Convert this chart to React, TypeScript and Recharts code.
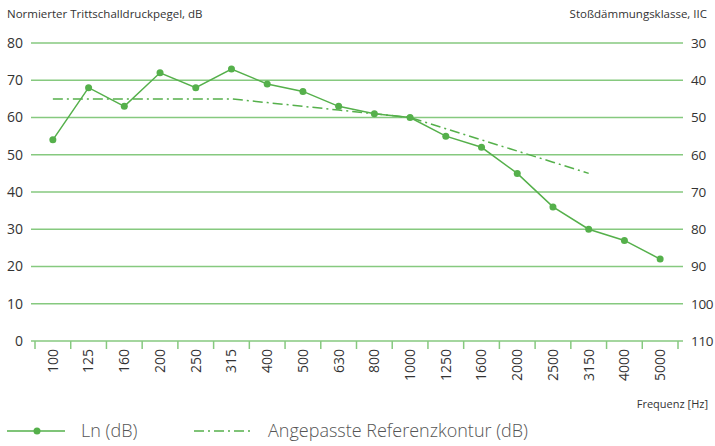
import { LineChart, Line, XAxis, YAxis, CartesianGrid } from 'recharts';

// Terzband-Mittenfrequenzen (Hz)
const frequencies = ['100', '125', '160', '200', '250', '315', '400', '500', '630', '800', '1000', '1250', '1600', '2000', '2500', '3150', '4000', '5000'];
// Normierter Trittschallpegel Ln (dB)
const lnValues = [54, 68, 63, 72, 68, 73, 69, 67, 63, 61, 60, 55, 52, 45, 36, 30, 27, 22];
// Verschobene Bezugskurve (dB), nur bis 3150 Hz
const refValues = [65, 65, 65, 65, 65, 65, 64, 63, 62, 61, 60, 57, 54, 51, 48, 45, null, null];
const leftTicks = [0, 10, 20, 30, 40, 50, 60, 70, 80];
const rightTicks = [30, 40, 50, 60, 70, 80, 90, 100, 110];

const GREEN = '#55b04b';
const GRID = '#86c97f';
const TEXT = '#333';
const FONT = '"Open Sans", "Noto Sans", sans-serif';

const W = 715;
const H = 446;
const PLOT_LEFT = 31;
const PLOT_RIGHT = 683;
const PAD_L = 4;
const PAD_R = 5;
const BAND = (PLOT_RIGHT - PAD_R - (PLOT_LEFT + PAD_L)) / frequencies.length;

const data = frequencies.map((f, i) => ({ f, ln: lnValues[i], ref: refValues[i] }));

function FreqTick(props: any) {
  const { x, y, payload, index } = props;
  const last = index === frequencies.length - 1;
  return (
    <g>
      <line x1={x - BAND / 2} y1={y} x2={x - BAND / 2} y2={y + 8} stroke={GRID} strokeWidth={1.5} />
      {last && <line x1={x + BAND / 2} y1={y} x2={x + BAND / 2} y2={y + 8} stroke={GRID} strokeWidth={1.5} />}
      <text
        transform={`translate(${x},${y + 8}) rotate(-90)`}
        textAnchor="end"
        dy="0.35em"
        fontSize={14}
        fill={TEXT}
        fontFamily={FONT}
      >
        {payload.value}
      </text>
    </g>
  );
}

function Legend() {
  return (
    <svg width={W} height={30} style={{ position: 'absolute', left: 0, top: 416 }}>
      <line x1={7} y1={15} x2={65} y2={15} stroke={GREEN} strokeWidth={1.5} />
      <circle cx={37} cy={15} r={3.5} fill={GREEN} />
      <text x={81} y={21} fontSize={18} fill="#555" fontFamily={FONT} fontWeight={300}>Ln (dB)</text>
      <line x1={194} y1={15} x2={252} y2={15} stroke={GREEN} strokeWidth={1.5} strokeDasharray="10 4 2 4" />
      <text x={268} y={21} fontSize={18} fill="#555" fontFamily={FONT} fontWeight={300}>Angepasste Referenzkontur (dB)</text>
    </svg>
  );
}

export default function App() {
  return (
    <div style={{ position: 'absolute', left: 0, top: 0, width: W, height: H, background: '#fff', fontFamily: FONT }}>
      <div style={{ position: 'absolute', left: 7, top: 6, fontSize: 11.5, color: TEXT }}>
        Normierter Trittschalldruckpegel, dB
      </div>
      <div style={{ position: 'absolute', right: 8, top: 6, fontSize: 11.5, color: TEXT }}>
        Stoßdämmungsklasse, IIC
      </div>
      <LineChart
        width={W}
        height={H}
        data={data}
        margin={{ top: 43, right: 0, bottom: 45, left: 0 }}
      >
        <CartesianGrid horizontal vertical={false} stroke={GRID} strokeWidth={1.5} yAxisId="left" />
        <XAxis
          dataKey="f"
          height={60}
          axisLine={false}
          tickLine={false}
          tickSize={0}
          tickMargin={0}
          interval={0}
          padding={{ left: PAD_L + BAND / 2, right: PAD_R + BAND / 2 }}
          tick={<FreqTick />}
        />
        <YAxis
          yAxisId="left"
          orientation="left"
          width={PLOT_LEFT}
          domain={[0, 80]}
          ticks={leftTicks}
          axisLine={false}
          tickLine={false}
          tickSize={0}
          tickMargin={8}
          tick={{ fontSize: 14, fill: TEXT, fontFamily: FONT }}
        />
        <YAxis
          yAxisId="right"
          orientation="right"
          width={W - PLOT_RIGHT}
          domain={[30, 110]}
          allowDataOverflow
          reversed
          ticks={rightTicks}
          axisLine={false}
          tickLine={false}
          tickSize={0}
          tickMargin={8}
          tick={{ fontSize: 13.5, fill: TEXT, fontFamily: FONT, textAnchor: 'start', letterSpacing: -0.3 }}
        />
        {/* unsichtbare Serie, damit die rechte Achse gezeichnet wird */}
        <Line
          yAxisId="right"
          dataKey="ln"
          stroke="none"
          dot={false}
          activeDot={false}
          legendType="none"
          isAnimationActive={false}
        />
        <Line
          yAxisId="left"
          dataKey="ref"
          stroke={GREEN}
          strokeWidth={1.5}
          strokeDasharray="10 4 2 4"
          dot={false}
          activeDot={false}
          connectNulls={false}
          isAnimationActive={false}
        />
        <Line
          yAxisId="left"
          dataKey="ln"
          stroke={GREEN}
          strokeWidth={1.5}
          dot={{ r: 3.5, fill: GREEN, stroke: GREEN, strokeWidth: 0 }}
          activeDot={false}
          isAnimationActive={false}
        />
      </LineChart>
      <div style={{ position: 'absolute', right: 7, top: 396, fontSize: 11, color: TEXT }}>
        Frequenz [Hz]
      </div>
      <Legend />
    </div>
  );
}
